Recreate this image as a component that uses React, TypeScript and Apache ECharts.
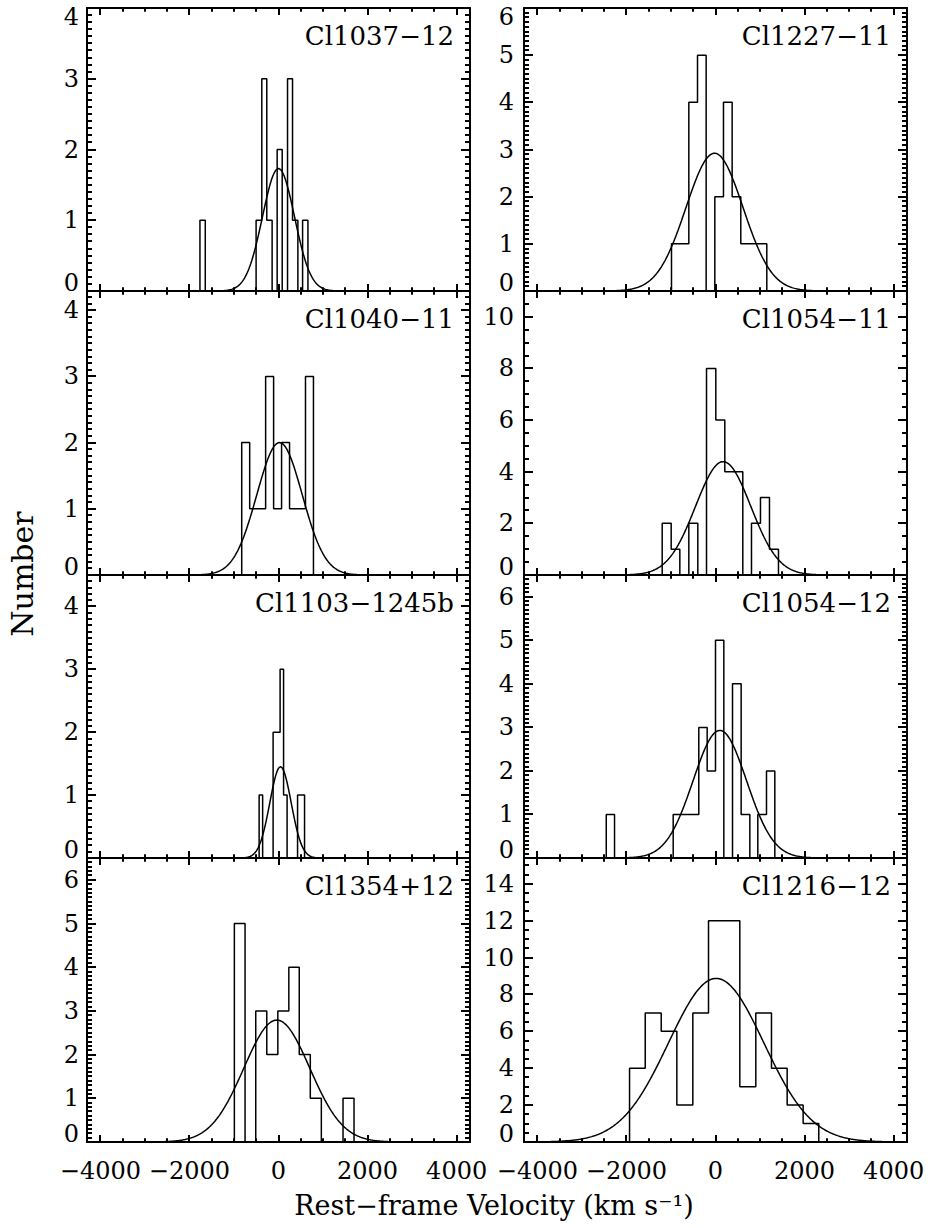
import React, { useEffect, useRef } from 'react';
import * as echarts from 'echarts';

// ---------------- data ----------------
const clusterNames = [
  'Cl1037−12', 'Cl1227−11',
  'Cl1040−11', 'Cl1054−11',
  'Cl1103−1245b', 'Cl1054−12',
  'Cl1354+12', 'Cl1216−12',
];

// histogram bin edges (km/s) and counts per bin
const edgesCl1037 = [-1764, -1644, -503, -375, -263, -143, -30, 83, 203, 315, 435, 541, 661];
const countsCl1037 = [1, 0, 1, 3, 1, 0, 2, 0, 3, 1, 0, 1];

const edgesCl1227 = [-988, -793, -599, -404, -210, -15, 179, 374, 568, 763, 957, 1152];
const countsCl1227 = [1, 1, 4, 5, 0, 2, 4, 2, 1, 1, 1];

const edgesCl1040 = [-826, -647, -468, -289, -110, 69, 248, 427, 606, 785];
const countsCl1040 = [2, 1, 1, 3, 1, 2, 1, 1, 3];

const edgesCl1054a = [-1197, -995, -801, -599, -397, -202, 7, 209, 411, 613, 808, 1010, 1212, 1414];
const countsCl1054a = [2, 1, 0, 2, 0, 8, 6, 4, 4, 0, 2, 3, 1];

const edgesCl1103 = [-435, -356, -278, -200, -121, -42, 36, 114, 193, 271, 350, 428, 507, 585];
const countsCl1103 = [1, 0, 0, 0, 2, 2, 3, 1, 0, 0, 0, 1, 1];

const edgesCl1054b = [-2453, -2267, -950, -758, -566, -375, -187, 0, 187, 382, 576, 771, 950, 1145, 1332];
const countsCl1054b = [1, 0, 1, 1, 1, 3, 2, 5, 0, 4, 1, 0, 1, 2];

const edgesCl1354 = [-991, -751, -511, -263, -15, 232, 466, 714, 962, 1209, 1449, 1696];
const countsCl1354 = [5, 0, 3, 2, 3, 4, 2, 1, 0, 0, 1];

const edgesCl1216 = [-1930, -1578, -1219, -868, -509, -157, 195, 546, 905, 1257, 1609, 1968, 2319];
const countsCl1216 = [4, 7, 6, 2, 7, 12, 12, 3, 7, 4, 2, 1];

const allEdges = [edgesCl1037, edgesCl1227, edgesCl1040, edgesCl1054a, edgesCl1103, edgesCl1054b, edgesCl1354, edgesCl1216];
const allCounts = [countsCl1037, countsCl1227, countsCl1040, countsCl1054a, countsCl1103, countsCl1054b, countsCl1354, countsCl1216];

// Gaussian fit parameters: mean (km/s), sigma (km/s), peak (number)
const gaussMean = [0, -22, 23, 172, 45, 97, -38, 15];
const gaussSigma = [360, 640, 510, 620, 240, 600, 740, 1070];
const gaussPeak = [1.73, 2.92, 2.0, 4.39, 1.45, 2.93, 2.79, 8.87];

// y axis settings
const yMax = [4, 6, 4.29, 11, 4.5, 6.5, 6.5, 15.4];
const yInterval = [1, 1, 1, 2, 1, 1, 1, 2];
const yMinorInterval = [0.1, 0.1, 0.1, 0.5, 0.1, 0.1, 0.1, 0.5];

// x axis settings
const xMin = -4300;
const xMax = 4300;
const xTickValues = [-4000, -2000, 0, 2000, 4000];
const xMinorInterval = 500;

// ---------------- helpers ----------------
function stepPoints(edges: number[], counts: number[]) {
  const pts: number[][] = [[edges[0], 0]];
  for (let i = 0; i < counts.length; i++) {
    pts.push([edges[i], counts[i]]);
    pts.push([edges[i + 1], counts[i]]);
  }
  pts.push([edges[edges.length - 1], 0]);
  return pts;
}

function gaussCurve(mu: number, sigma: number, peak: number) {
  const pts: number[][] = [];
  for (let x = xMin; x <= xMax; x += 20) {
    pts.push([x, peak * Math.exp(-((x - mu) * (x - mu)) / (2 * sigma * sigma))]);
  }
  return pts;
}

// tick marks: [value, side(0 bottom,1 top,2 left,3 right), length px]
const X_MAJ = 7, X_MIN = 3.7, Y_MAJ = 9, Y_MIN = 5;
function tickItems(i: number) {
  const items: number[][] = [];
  for (let v = xTickValues[0]; v <= xTickValues[xTickValues.length - 1] + 1e-9; v += xMinorInterval) {
    const major = xTickValues.indexOf(v) >= 0;
    items.push([v, 0, major ? X_MAJ : X_MIN]);
    items.push([v, 1, major ? X_MAJ : X_MIN]);
  }
  const mi = yMinorInterval[i];
  const n = Math.floor(yMax[i] / mi + 1e-6);
  for (let k = 1; k <= n; k++) {
    const v = Math.round(k * mi * 1000) / 1000;
    const r = v / yInterval[i];
    const major = Math.abs(r - Math.round(r)) < 1e-6;
    items.push([v, 2, major ? Y_MAJ : Y_MIN]);
    items.push([v, 3, major ? Y_MAJ : Y_MIN]);
  }
  return items;
}

const FONT = 'DejaVu Serif';

export default function App() {
  const ref = useRef<HTMLDivElement>(null);

  useEffect(() => {
    const chart = echarts.init(ref.current as HTMLDivElement, null, { renderer: 'svg' });

    const colLeft = [87, 524];
    const gridW = 383;
    const rowEdge = [8, 291, 575, 858, 1142];

    const grids: any[] = [];
    const xAxes: any[] = [];
    const yAxes: any[] = [];
    const series: any[] = [];
    const graphics: any[] = [];

    const lineCommon = { show: true, onZero: false, lineStyle: { color: '#000', width: 2 } };
    const off = { show: false };

    for (let i = 0; i < 8; i++) {
      const col = i % 2;
      const row = Math.floor(i / 2);
      const left = colLeft[col];
      const top = rowEdge[row];
      const height = rowEdge[row + 1] - rowEdge[row];
      grids.push({ left, top, width: gridW, height });

      const xBase = {
        type: 'value',
        gridIndex: i,
        min: xMin,
        max: xMax,
        splitNumber: 5,
        axisLine: lineCommon,
        axisTick: off,
        minorTick: off,
        splitLine: off,
      };
      xAxes.push({
        ...xBase,
        position: 'bottom',
        axisLabel: {
          show: row === 3,
          color: '#000',
          fontFamily: FONT,
          fontSize: 24,
          margin: 17,
          formatter: (v: number) =>
            xTickValues.indexOf(v) >= 0 ? (v < 0 ? '−' + Math.abs(v) : String(v)) : '',
        },
      });
      xAxes.push({ ...xBase, position: 'top', axisLabel: off });

      const iv = yInterval[i];
      const yBase = {
        type: 'value',
        gridIndex: i,
        min: 0,
        max: yMax[i],
        interval: iv,
        axisLine: lineCommon,
        axisTick: off,
        minorTick: off,
        splitLine: off,
      };
      yAxes.push({
        ...yBase,
        position: 'left',
        axisLabel: {
          show: true,
          color: '#000',
          fontFamily: FONT,
          fontSize: 24,
          lineHeight: 17,
          margin: col === 0 ? 8 : 10,
          verticalAlignMinLabel: 'bottom',
          verticalAlignMaxLabel: 'top',
          formatter: (v: number) =>
            Math.abs(v / iv - Math.round(v / iv)) < 1e-6 ? String(Math.round(v)) : '',
        },
      });
      yAxes.push({ ...yBase, position: 'right', axisLabel: off });

      const ym = yMax[i];
      series.push({
        type: 'custom',
        xAxisIndex: 2 * i,
        yAxisIndex: 2 * i,
        silent: true,
        clip: false,
        data: tickItems(i),
        renderItem: (params: any, api: any) => {
          const v = api.value(0);
          const side = api.value(1);
          const len = api.value(2);
          let p: number[];
          let q: number[];
          if (side === 0) {
            p = api.coord([v, 0]);
            p = [Math.round(p[0]), p[1]];
            q = [p[0], p[1] - len];
          } else if (side === 1) {
            p = api.coord([v, ym]);
            p = [Math.round(p[0]), p[1]];
            q = [p[0], p[1] + len];
          } else if (side === 2) {
            p = api.coord([xMin, v]);
            p = [p[0], Math.round(p[1])];
            q = [p[0] + len, p[1]];
          } else {
            p = api.coord([xMax, v]);
            p = [p[0], Math.round(p[1])];
            q = [p[0] - len, p[1]];
          }
          return {
            type: 'line',
            shape: { x1: p[0], y1: p[1], x2: q[0], y2: q[1] },
            style: { stroke: '#000', lineWidth: 2 },
          };
        },
      });

      series.push({
        type: 'line',
        xAxisIndex: 2 * i,
        yAxisIndex: 2 * i,
        data: stepPoints(allEdges[i], allCounts[i]),
        symbol: 'none',
        silent: true,
        lineStyle: { color: '#000', width: 1.5 },
      });
      series.push({
        type: 'line',
        xAxisIndex: 2 * i,
        yAxisIndex: 2 * i,
        data: gaussCurve(gaussMean[i], gaussSigma[i], gaussPeak[i]),
        symbol: 'none',
        silent: true,
        lineStyle: { color: '#000', width: 1.5 },
      });

      graphics.push({
        type: 'text',
        x: left + gridW - 16,
        y: top + 28,
        silent: true,
        style: {
          text: clusterNames[i],
          font: `26px "${FONT}"`,
          fill: '#000',
          align: 'right',
          verticalAlign: 'middle',
        },
      });
    }

    graphics.push({
      type: 'text',
      x: 22,
      y: 574,
      rotation: Math.PI / 2,
      silent: true,
      style: { text: 'Number', font: `30px "${FONT}"`, fill: '#000', align: 'center', verticalAlign: 'middle' },
    });
    graphics.push({
      type: 'text',
      x: 494,
      y: 1205,
      silent: true,
      style: { text: 'Rest−frame Velocity (km s⁻¹)', font: `27px "${FONT}"`, fill: '#000', align: 'center', verticalAlign: 'middle' },
    });

    chart.setOption({
      animation: false,
      backgroundColor: '#fff',
      textStyle: { fontFamily: FONT, color: '#000' },
      grid: grids,
      xAxis: xAxes,
      yAxis: yAxes,
      series,
      graphic: graphics,
    });

    return () => chart.dispose();
  }, []);

  return (
    <div
      ref={ref}
      style={{ position: 'absolute', left: 0, top: 0, width: 930, height: 1228, background: '#fff' }}
    />
  );
}
